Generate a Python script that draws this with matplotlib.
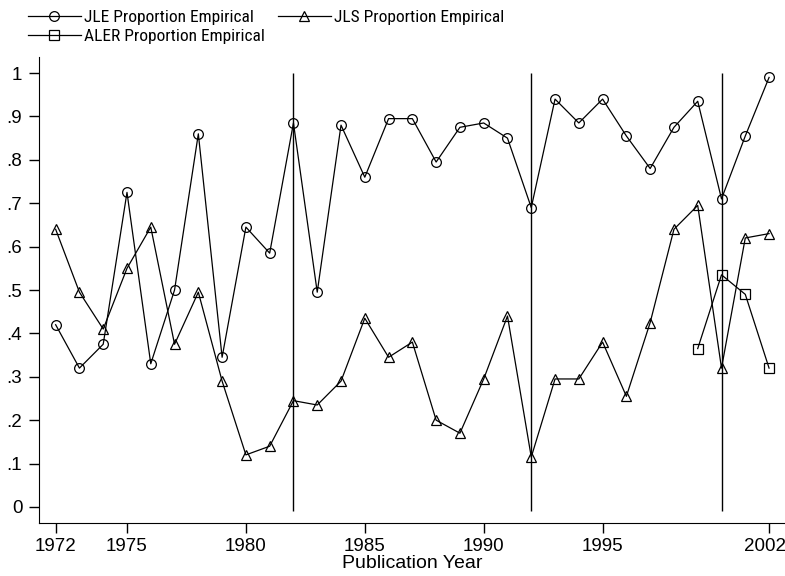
import matplotlib
matplotlib.use("Agg")
import matplotlib.pyplot as plt
from matplotlib.font_manager import FontProperties, findfont
import matplotlib.transforms as mtransforms

years = list(range(1972, 2003))
jle = [0.42, 0.32, 0.375, 0.725, 0.33, 0.50, 0.86, 0.345, 0.645, 0.585,
       0.885, 0.495, 0.88, 0.76, 0.895, 0.895, 0.795, 0.875, 0.885, 0.85,
       0.69, 0.94, 0.885, 0.94, 0.855, 0.78, 0.875, 0.935, 0.71, 0.855, 0.99]
jls = [0.64, 0.495, 0.41, 0.55, 0.645, 0.375, 0.495, 0.29, 0.12, 0.14,
       0.245, 0.235, 0.29, 0.435, 0.345, 0.38, 0.20, 0.17, 0.295, 0.44,
       0.115, 0.295, 0.295, 0.38, 0.255, 0.425, 0.64, 0.695, 0.32, 0.62, 0.63]
aler_years = [1999, 2000, 2001, 2002]
aler = [0.365, 0.535, 0.49, 0.32]
vlines = [1982, 1992, 2000]
xticks = [1972, 1975, 1980, 1985, 1990, 1995, 2002]
yticks = [0, 0.1, 0.2, 0.3, 0.4, 0.5, 0.6, 0.7, 0.8, 0.9, 1.0]
ytick_labels = ["0", ".1", ".2", ".3", ".4", ".5", ".6", ".7", ".8", ".9", "1"]

plt.rcParams['font.family'] = ['Liberation Sans', 'DejaVu Sans']

# look for a condensed sans face for the legend
narrow = None
for fam in ['Liberation Sans Narrow', 'Arial Narrow', 'Nimbus Sans Narrow',
            'Roboto Condensed', 'Open Sans Condensed']:
    try:
        findfont(FontProperties(family=fam), fallback_to_default=False)
        narrow = fam
        break
    except Exception:
        pass
if narrow is None:
    for fam in ['Roboto', 'Open Sans']:
        try:
            p = findfont(FontProperties(family=fam, stretch='condensed'),
                         fallback_to_default=False)
            if 'ondensed' in p:
                narrow = (fam, 'condensed')
                break
        except Exception:
            pass

if isinstance(narrow, str):
    legprop = FontProperties(family=narrow, size=12.5)
    gap_px = 13
elif isinstance(narrow, tuple):
    legprop = FontProperties(family=narrow[0], stretch='condensed', size=12.5)
    gap_px = 13
else:
    legprop = FontProperties(family='Liberation Sans', size=10.5)
    gap_px = 12

fig = plt.figure(figsize=(7.85, 5.76), dpi=100)
left = 39 / 785
ax = fig.add_axes([left, 0.092, 1 - left, 0.809])

lw = 0.9
ms = 7
l1, = ax.plot(years, jle, color='black', lw=lw, marker='o', ms=ms,
              mfc='none', mec='black', mew=0.9, label='JLE Proportion Empirical')
l2, = ax.plot(years, jls, color='black', lw=lw, marker='^', ms=ms,
              mfc='none', mec='black', mew=0.9, label='JLS Proportion Empirical')
l3, = ax.plot(aler_years, aler, color='black', lw=lw, marker='s', ms=ms,
              mfc='none', mec='black', mew=0.9, label='ALER Proportion Empirical')
for v in vlines:
    ax.vlines(v, -0.01, 1.0, color='black', lw=1.0)

ax.set_xlim(1971.30, 2002.67)
ax.set_ylim(-0.037, 1.037)
ax.set_xticks(xticks)
ax.set_yticks(yticks)
ax.set_yticklabels(ytick_labels)
ax.tick_params(axis='both', labelsize=13.5, length=7, width=1, direction='out')
ax.tick_params(axis='x', pad=4)
ax.tick_params(axis='y', pad=5)
ax.spines['top'].set_visible(False)
ax.spines['right'].set_visible(False)
ax.set_xlabel('Publication Year', fontsize=14, labelpad=0)

# nudge the last x tick label so it stays inside the figure
last = ax.get_xticklabels()[-1]
last.set_transform(last.get_transform() +
                   mtransforms.ScaledTranslation(-4 / 100, 0, fig.dpi_scale_trans))

fs_px = legprop.get_size() * 100 / 72
fig.legend(handles=[l1, l3, l2], ncol=2, loc='upper left',
           bbox_to_anchor=(0.020, 1.004), frameon=False, prop=legprop,
           handlelength=53 / fs_px, handletextpad=3 / fs_px,
           columnspacing=gap_px / fs_px, labelspacing=0.25, borderpad=0.2)

fig.savefig('out.png', dpi=100)
